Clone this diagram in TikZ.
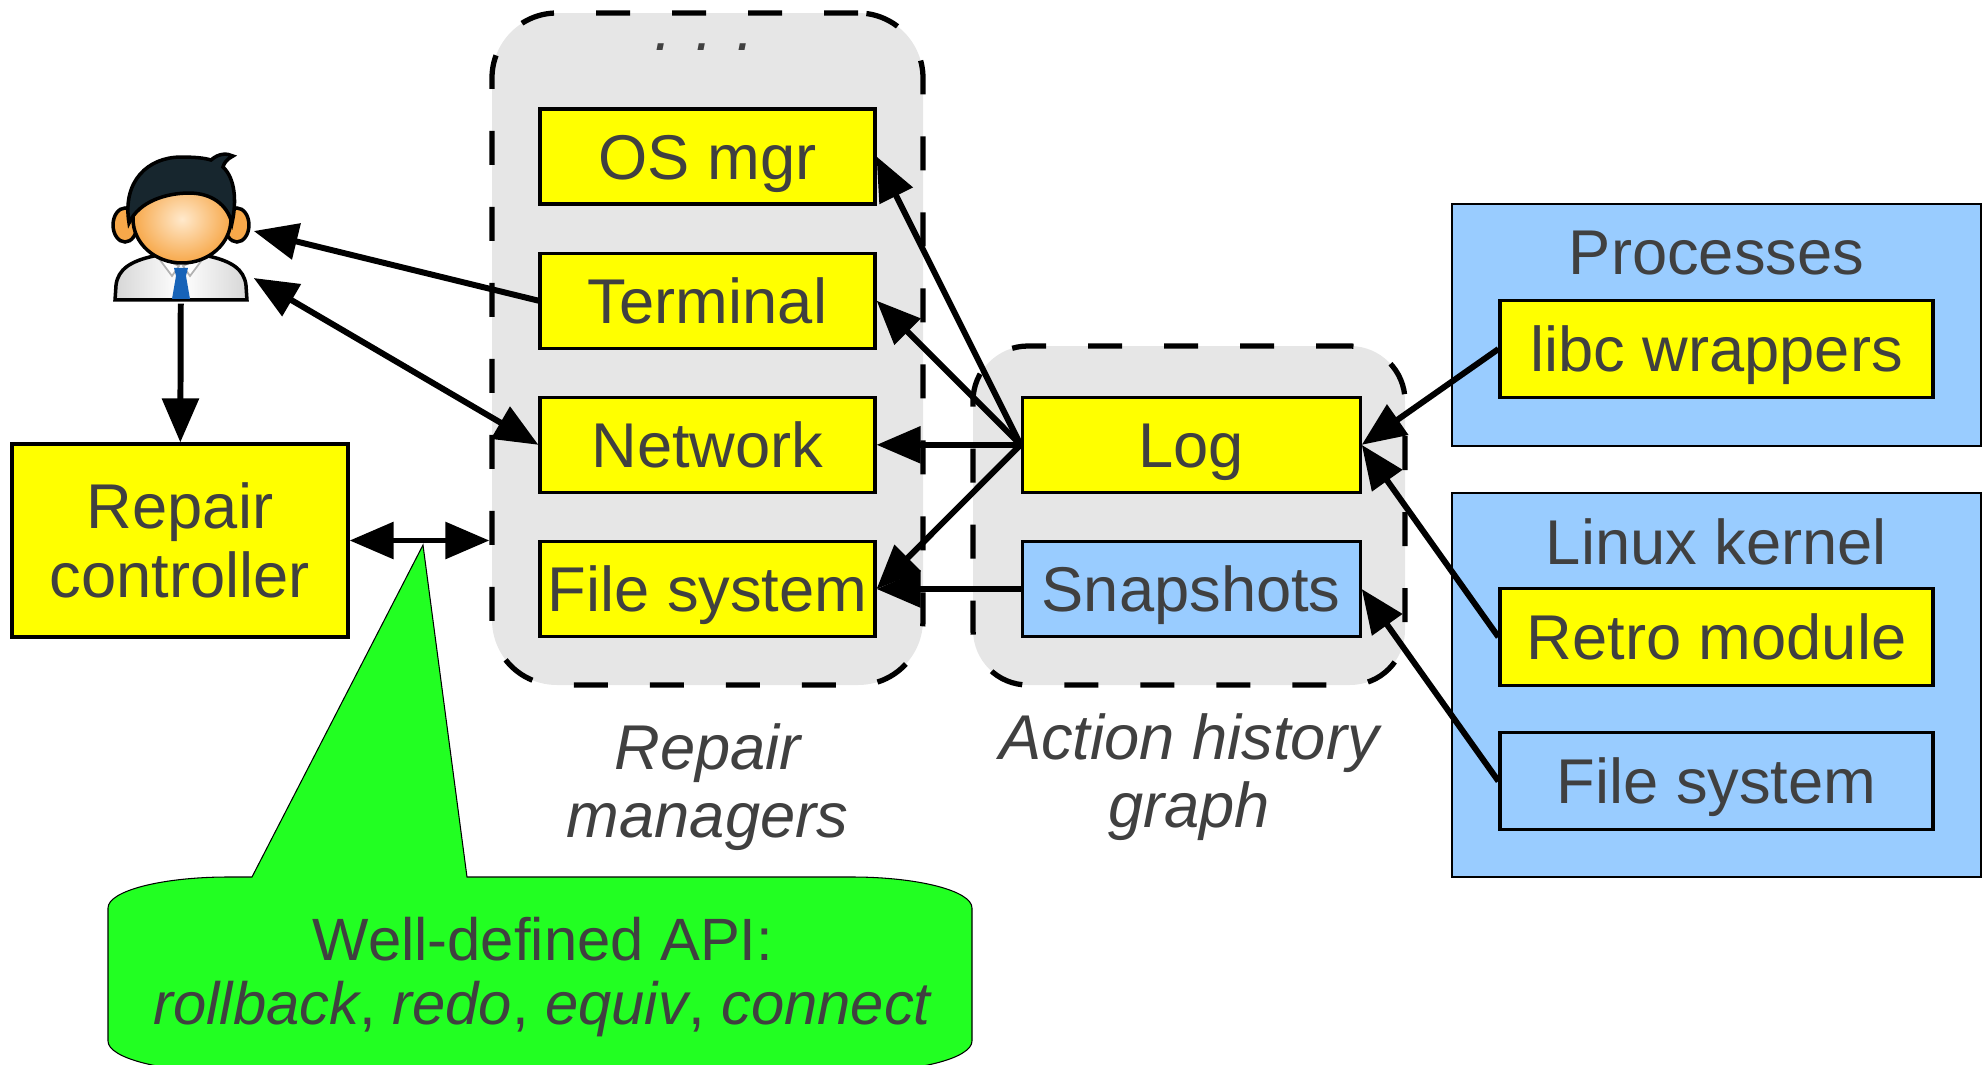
\documentclass[tikz,border=0pt]{standalone}
\usepackage{fontspec}
\setmainfont{Liberation Sans}
\usepackage{tikz}
\definecolor{boxyellow}{HTML}{FFFF00}
\definecolor{boxblue}{HTML}{99CCFF}
\definecolor{grpgray}{HTML}{E6E6E6}
\definecolor{apigreen}{HTML}{22FF22}
\definecolor{txtgray}{HTML}{404040}
\definecolor{skin}{HTML}{F7A84A}
\definecolor{skinlight}{HTML}{FFE9CC}
\definecolor{hair}{HTML}{17262E}
\definecolor{tieblue}{HTML}{1763B8}
\usetikzlibrary{arrows.meta,positioning,backgrounds}

\begin{document}
\begin{tikzpicture}[>={Triangle[length=0.44cm,width=0.36cm]},text=txtgray,
    font=\fontsize{18}{19.5}\selectfont]
    \tikzstyle{ctl}=[rectangle,draw=black,line width=0.9pt,fill=boxyellow,inner
    sep=0pt,align=center]
    \tikzstyle{mgr}=[rectangle,draw=black,line width=0.9pt,fill=boxyellow,inner
    sep=0pt,text height=0.45cm,text depth=0pt,minimum width=3.35cm,minimum height=0.95cm]
    \tikzstyle{store}=[mgr,fill=boxblue]
    \tikzstyle{grp}=[rectangle,draw=black,line width=1.5pt,fill=grpgray,
    dash pattern=on 0.34cm off 0.42cm,rounded corners=0.65cm]
    \tikzstyle{oslayer}=[rectangle,draw=black,line width=0.8pt,fill=boxblue]
    \tikzstyle{caption}=[font=\fontsize{18}{19.5}\selectfont\itshape,align=center,inner sep=0pt]
    \tikzstyle{title}=[inner sep=0pt]
    \tikzstyle{link}=[line width=1.7pt]

    \useasboundingbox (0,0) rectangle (19.88,-10.65);

    \node[grp,minimum width=4.31cm,minimum height=6.72cm](mgrs) at (7.075,-3.49){};
    \node[grp,rounded corners=0.55cm,minimum width=4.32cm,minimum height=3.39cm](hist) at (11.89,-5.155){};
    \node[oslayer,minimum width=5.29cm,minimum height=2.42cm](procs) at (17.165,-3.25){};
    \node[oslayer,minimum width=5.29cm,minimum height=3.84cm](kernel) at (17.165,-6.85){};

    \node[caption,anchor=base](dots) at (7.04,-0.50){. . .};
    \node[mgr](os_mgr) at (7.075,-1.565){OS mgr};
    \node[mgr](terminal)[below=0.46cm of os_mgr]{Terminal};
    \node[mgr](network)[below=0.46cm of terminal]{Network};
    \node[mgr](mgr_fs)[below=0.46cm of network]{File system};
    \node[caption](mgrs_cap)[below=0.35cm of mgrs]{Repair\\managers};

    \node[mgr,minimum width=3.38cm](log)[right=1.44cm of network]{Log};
    \node[store,minimum width=3.38cm](snapshots)[below=0.46cm of log]{Snapshots};
    \node[caption](hist_cap)[below=0.25cm of hist]{Action history\\graph};

    \node[title](procs_t)[below=0.28cm of procs.north]{Processes};
    \node[mgr,minimum width=4.33cm,minimum height=0.97cm](libc) at (17.165,-3.49){libc wrappers};
    \node[title](kernel_t)[below=0.26cm of kernel.north]{Linux kernel};
    \node[mgr,minimum width=4.33cm,minimum height=0.97cm](retro) at (17.165,-6.37){Retro module};
    \node[store,minimum width=4.33cm,minimum height=0.97cm](kern_fs)[below=0.44cm of retro]{File system};

    \node[ctl,minimum width=3.36cm,minimum height=1.93cm](repair_ctl) at (1.80,-5.405){Repair\\controller};
    \node[inner sep=0pt,minimum width=1.44cm,minimum height=1.44cm](user) at (1.81,-2.31){};

    \begin{scope}[shift={(user.center)},x=0.01cm,y=-0.01cm,line width=1pt]
      \draw[left color=black!16,right color=black!16,middle color=white]
        (-66,69) -- (-65,54) .. controls (-63,38) and (-50,30) .. (-27,25)
        -- (27,25) .. controls (50,30) and (63,38) .. (65,54) -- (66,69) -- cycle;
      \draw[black!30,line width=0.5pt,fill=white] (-24,25) -- (-9,45) -- (-2,35) -- cycle;
      \draw[black!30,line width=0.5pt,fill=white] (24,25) -- (9,45) -- (2,35) -- cycle;
      \fill[tieblue] (-7,37) -- (7,37) -- (5,45) -- (-5,45) -- cycle;
      \fill[tieblue] (-5,45) -- (5,45) -- (9,68) -- (-9,68) -- cycle;
      \draw[fill=skin] (-56,-6) ellipse [x radius=12, y radius=17];
      \draw[fill=skin] (56,-6) ellipse [x radius=12, y radius=17];
      \draw[inner color=skinlight,outer color=skin] (1,-12) ellipse [x radius=49, y radius=44];
      \draw[fill=hair]
        (-52,-8) .. controls (-59,-50) and (-33,-74) .. (0,-74)
        .. controls (14,-74) and (24,-73) .. (30,-71)
        .. controls (38,-78) and (46,-78) .. (52,-75)
        .. controls (46,-72) and (43,-68) .. (42,-64)
        .. controls (54,-53) and (56,-30) .. (51,-8)
        .. controls (46,-27) and (30,-38) .. (8,-38)
        .. controls (-14,-38) and (-42,-30) .. (-52,-8) -- cycle;
    \end{scope}

    \path[draw=black,line width=0.3pt,fill=apigreen]
      (1.08,-9.08) arc[start angle=180,end angle=90,x radius=1.2cm,y radius=0.31cm]
      -- (2.52,-8.77) -- (4.23,-5.45) -- (4.67,-8.77) -- (8.52,-8.77)
      arc[start angle=90,end angle=0,x radius=1.2cm,y radius=0.31cm]
      -- (9.72,-10.41) arc[start angle=0,end angle=-90,x radius=1.2cm,y radius=0.31cm]
      -- (2.28,-10.72) arc[start angle=-90,end angle=-180,x radius=1.2cm,y radius=0.31cm]
      -- cycle;
    \node[align=center,inner sep=0pt,font=\fontsize{17}{18}\selectfont](api) at (5.43,-9.77)
      {Well-defined API:\\\textit{rollback}, \textit{redo}, \textit{equiv}, \textit{connect}};

    \draw[->,link] (terminal.west) -- (user.east);
    \draw[<->,link] (network.west) -- ([yshift=-0.47cm]user.east);
    \draw[->,link] (user) -- (repair_ctl);
    \draw[<->,link] (repair_ctl.east) -- (repair_ctl.east -| mgrs.west);

    \draw[->,link] (log.west) -- (os_mgr.east);
    \draw[->,link] (log.west) -- (terminal.east);
    \draw[->,link] (log.west) -- (network.east);
    \draw[->,link] (log.west) -- (mgr_fs.east);
    \draw[->,link] (snapshots.west) -- (mgr_fs.east);

    \draw[->,link] (libc.west) -- (log.east);
    \draw[->,link] (retro.west) -- (log.east);
    \draw[->,link] (kern_fs.west) -- (snapshots.east);
  \end{tikzpicture}
\end{document}
